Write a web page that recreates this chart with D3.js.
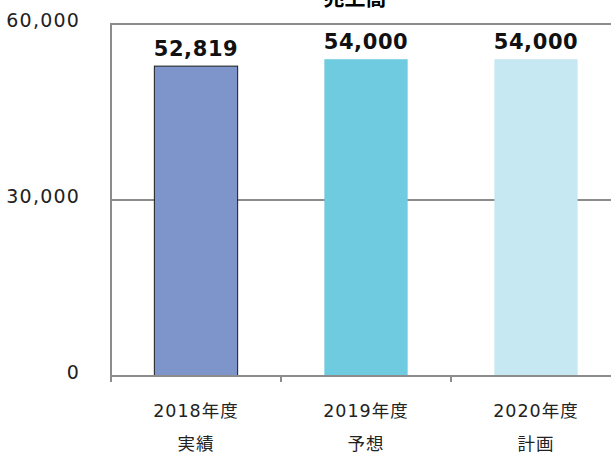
<!DOCTYPE html>
<html><head><meta charset="utf-8">
<script src="https://cdn.jsdelivr.net/npm/d3@7"></script>
<style>
html,body{margin:0;padding:0;background:#fff;}
svg{display:block;font-family:"DejaVu Sans","Noto Sans CJK JP",sans-serif;}
</style></head>
<body><svg id="c" width="611" height="454"></svg>
<script>
const title = "売上高";
const years = ["2018年度","2019年度","2020年度"];
const kinds = ["実績","予想","計画"];
const values = [52819, 54000, 54000];
const colors = ["#7d95cb","#6ecbe0","#c6e8f3"];
const yTicks = [0, 30000, 60000];

const svg = d3.select("#c");
const L = 111, R = 621, T = 24, B = 376;
const x = d3.scaleBand().domain(years).range([L, R]).paddingInner(0.51).paddingOuter(0.255);
const xc = d3.scaleBand().domain(years).range([L, R]);
const y = d3.scaleLinear().domain([0, 60000]).range([B, T]);

// title (cropped at the top edge, as in the reference)
svg.append("text").attr("x", 355).attr("y", 5).attr("text-anchor","middle")
  .attr("font-size", 21).attr("font-weight","bold").attr("fill","#000").text(title);

// gridlines
svg.append("g").selectAll("line").data(yTicks.filter(d=>d>0)).join("line")
  .attr("x1", L).attr("x2", R).attr("y1", d=>y(d)).attr("y2", d=>y(d))
  .attr("stroke","#8c8c8c").attr("stroke-width",2);

// left axis line
svg.append("line").attr("x1",L).attr("x2",L).attr("y1",T-1).attr("y2",B)
  .attr("stroke","#8c8c8c").attr("stroke-width",2);

// bars
svg.append("g").selectAll("rect").data(values).join("rect")
  .attr("x",(d,i)=>x(years[i])).attr("width",x.bandwidth())
  .attr("y",d=>y(d)).attr("height",d=>B-y(d))
  .attr("fill",(d,i)=>colors[i])
  .attr("stroke",(d,i)=>i===0?"#1a1a1a":"none").attr("stroke-width",1);

// baseline with ticks
svg.append("line").attr("x1",L).attr("x2",R).attr("y1",B).attr("y2",B)
  .attr("stroke","#8c8c8c").attr("stroke-width",2);
svg.append("g").selectAll("line").data(years).join("line")
  .attr("x1",d=>xc(d)).attr("x2",d=>xc(d)).attr("y1",B).attr("y2",B+6)
  .attr("stroke","#8c8c8c").attr("stroke-width",2);

// y labels
svg.append("g").selectAll("text").data(yTicks).join("text")
  .attr("x",80).attr("y",d=>y(d)+3).attr("text-anchor","end")
  .attr("font-size",19).attr("letter-spacing",1.2).attr("fill","#222").text(d=>d3.format(",")(d));

// value labels
svg.append("g").selectAll("text").data(values).join("text")
  .attr("x",(d,i)=>x(years[i])+x.bandwidth()/2).attr("y",d=>y(d)-10)
  .attr("text-anchor","middle").attr("font-size",21).attr("letter-spacing",0.6).attr("font-weight","bold")
  .attr("fill","#111").text(d=>d3.format(",")(d));

// x labels
svg.append("g").selectAll("text").data(years).join("text")
  .attr("x",d=>xc(d)+xc.bandwidth()/2).attr("y",417)
  .attr("text-anchor","middle").attr("font-size",17.5).attr("letter-spacing",1).attr("fill","#222").text(d=>d);
svg.append("g").selectAll("text").data(kinds).join("text")
  .attr("x",(d,i)=>xc(years[i])+xc.bandwidth()/2).attr("y",450)
  .attr("text-anchor","middle").attr("font-size",17.5).attr("letter-spacing",1).attr("fill","#222").text(d=>d);
</script></body></html>
